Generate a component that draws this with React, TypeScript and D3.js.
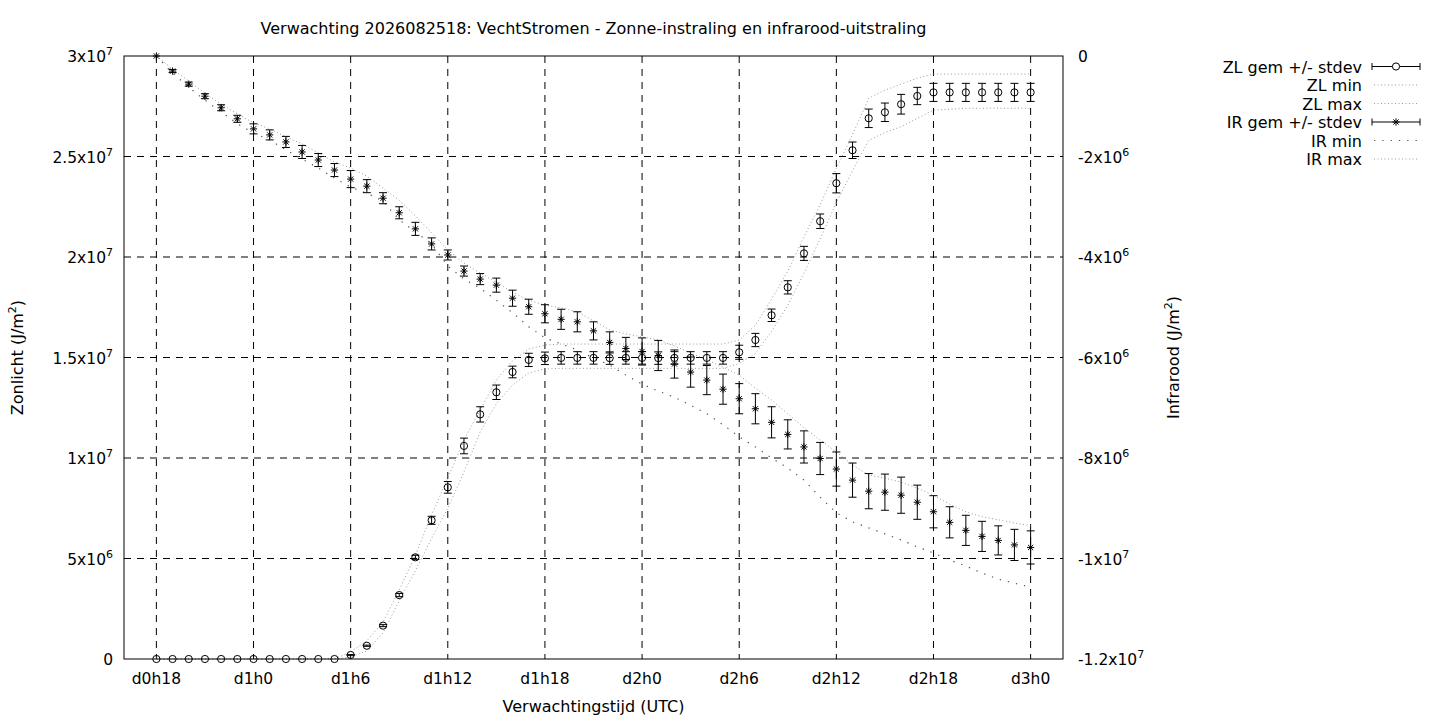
import * as d3 from 'd3'
import React from 'react'

// forecast hours since d0h0
const hours = [
  18, 19, 20, 21, 22, 23, 24, 25, 26, 27, 28, 29, 30, 31, 32, 33, 34, 35, 36,
  37, 38, 39, 40, 41, 42, 43, 44, 45, 46, 47, 48, 49, 50, 51, 52, 53, 54, 55,
  56, 57, 58, 59, 60, 61, 62, 63, 64, 65, 66, 67, 68, 69, 70, 71, 72,
]

// Zonlicht, in 1e6 J/m2
const zlMean = [
  0, 0, 0, 0, 0, 0, 0, 0, 0, 0, 0, 0,
  0.2, 0.66, 1.66, 3.18, 5.06, 6.9, 8.54, 10.6, 12.17, 13.27, 14.28, 14.88,
  14.96, 14.98, 14.98, 14.98, 14.97, 14.98, 14.98, 14.97, 14.98, 14.98, 14.98, 14.98,
  15.26, 15.87, 17.1, 18.49, 20.18, 21.78, 23.67, 25.31, 26.9, 27.2, 27.6, 28.01,
  28.19, 28.19, 28.19, 28.19, 28.19, 28.19, 28.19,
]
const zlStd = [
  0, 0, 0, 0, 0, 0, 0, 0, 0, 0, 0, 0,
  0.02, 0.03, 0.05, 0.08, 0.1, 0.2, 0.29, 0.39, 0.38, 0.36, 0.29, 0.33,
  0.31, 0.31, 0.31, 0.31, 0.31, 0.31, 0.31, 0.31, 0.31, 0.31, 0.31, 0.31,
  0.35, 0.33, 0.31, 0.33, 0.35, 0.36, 0.48, 0.41, 0.46, 0.46, 0.49, 0.43,
  0.45, 0.45, 0.45, 0.45, 0.45, 0.45, 0.45,
]
const zlMin = [
  0, 0, 0, 0, 0, 0, 0, 0, 0, 0, 0, 0,
  0.1, 0.4, 1.3, 2.9, 4.4, 6.0, 7.5, 9.3, 11.3, 12.7, 13.63, 14.23,
  14.43, 14.46, 14.46, 14.46, 14.46, 14.46, 14.46, 14.46, 14.46, 14.46, 14.46, 14.46,
  14.7, 15.2, 16.3, 17.6, 19.2, 20.9, 22.7, 24.3, 25.8, 26.2, 26.48, 26.9,
  27.31, 27.35, 27.4, 27.4, 27.4, 27.4, 27.4,
]
const zlMax = [
  0, 0, 0, 0, 0, 0, 0, 0, 0, 0, 0, 0,
  0.35, 0.9, 1.84, 3.43, 5.17, 7.16, 9.0, 10.9, 12.39, 13.88, 14.83, 15.42,
  15.62, 15.67, 15.67, 15.67, 15.67, 15.67, 15.67, 15.67, 15.67, 15.67, 15.67, 15.67,
  15.87, 16.6, 17.9, 19.3, 21.0, 22.6, 24.4, 26.1, 27.9, 28.3, 28.6, 28.9,
  29.1, 29.1, 29.1, 29.1, 29.1, 29.1, 29.1,
]

// Infrarood, in 1e6 J/m2
const irMean = [
  0, -0.3, -0.56, -0.8, -1.03, -1.25, -1.45, -1.57, -1.71, -1.91, -2.07, -2.27,
  -2.45, -2.59, -2.83, -3.12, -3.44, -3.74, -3.96, -4.28, -4.44, -4.56, -4.82, -4.99,
  -5.13, -5.24, -5.29, -5.47, -5.7, -5.82, -5.88, -5.96, -6.13, -6.29, -6.45, -6.63,
  -6.82, -7.02, -7.29, -7.53, -7.78, -8.01, -8.22, -8.44, -8.66, -8.68, -8.74, -8.88,
  -9.07, -9.28, -9.44, -9.56, -9.64, -9.73, -9.78,
]
const irStd = [
  0, 0.03, 0.04, 0.05, 0.06, 0.07, 0.1, 0.1, 0.11, 0.13, 0.13, 0.13,
  0.17, 0.13, 0.11, 0.12, 0.13, 0.12, 0.1, 0.1, 0.11, 0.14, 0.16, 0.15,
  0.18, 0.2, 0.2, 0.18, 0.21, 0.22, 0.27, 0.3, 0.28, 0.3, 0.29, 0.3,
  0.3, 0.3, 0.31, 0.29, 0.32, 0.32, 0.34, 0.34, 0.35, 0.36, 0.36, 0.34,
  0.32, 0.31, 0.3, 0.3, 0.29, 0.31, 0.33,
]
const irMin = [
  0, -0.34, -0.62, -0.88, -1.11, -1.35, -1.53, -1.67, -1.87, -2.05, -2.23, -2.43,
  -2.61, -2.73, -2.89, -3.26, -3.5, -3.74, -4.18, -4.44, -4.62, -4.86, -5.11, -5.39,
  -5.61, -5.73, -5.85, -6.01, -6.15, -6.35, -6.53, -6.67, -6.79, -6.95, -7.12, -7.34,
  -7.58, -7.78, -8.0, -8.2, -8.44, -8.78, -9.09, -9.27, -9.39, -9.51, -9.63, -9.77,
  -9.89, -10.03, -10.15, -10.29, -10.41, -10.49, -10.57,
]
const irMax = [
  0, -0.26, -0.5, -0.74, -0.96, -1.15, -1.33, -1.45, -1.61, -1.75, -1.93, -2.11,
  -2.23, -2.39, -2.63, -2.87, -3.18, -3.52, -3.86, -4.12, -4.32, -4.5, -4.7, -4.86,
  -4.96, -5.01, -5.09, -5.27, -5.45, -5.53, -5.59, -5.65, -5.77, -5.91, -6.05, -6.19,
  -6.35, -6.61, -6.85, -7.12, -7.4, -7.64, -7.88, -8.14, -8.34, -8.4, -8.48, -8.6,
  -8.74, -8.92, -9.07, -9.17, -9.23, -9.29, -9.35,
]

const xTicks = [18, 24, 30, 36, 42, 48, 54, 60, 66, 72]
const xTickLabels = ['d0h18', 'd1h0', 'd1h6', 'd1h12', 'd1h18', 'd2h0', 'd2h6', 'd2h12', 'd2h18', 'd3h0']
const leftTicks = [0, 5, 10, 15, 20, 25, 30]
const leftTickLabels = ['0', '5x10^6', '1x10^7', '1.5x10^7', '2x10^7', '2.5x10^7', '3x10^7']
const rightTicks = [0, -2, -4, -6, -8, -10, -12]
const rightTickLabels = ['0', '-2x10^6', '-4x10^6', '-6x10^6', '-8x10^6', '-1x10^7', '-1.2x10^7']
const legendLabels = ['ZL gem +/- stdev', 'ZL min', 'ZL max', 'IR gem +/- stdev', 'IR min', 'IR max']

const W = 1440
const H = 720
const m = { left: 124, right: 1063, top: 56, bottom: 659 }
const FONT = 'DejaVu Sans, sans-serif'
const FS = 15.5
const FS_TITLE = 16
const SUP = 11

const x = d3.scaleLinear().domain([16, 74]).range([m.left, m.right])
const yL = d3.scaleLinear().domain([0, 30]).range([m.bottom, m.top])
const yR = d3.scaleLinear().domain([-12, 0]).range([m.bottom, m.top])

const dense = { stroke: '#9a9a9a', dash: '1,2.5' }
const sparse = { stroke: '#555', dash: '1.3,7' }

function Sup({ label }: { label: string }) {
  const [base, exp] = label.split('^')
  return (
    <>
      {base}
      {exp && (
        <tspan dy={-7} fontSize={SUP}>
          {exp}
        </tspan>
      )}
    </>
  )
}

function Circle({ cx, cy, fill = 'none' }: { cx: number; cy: number; fill?: string }) {
  return <circle cx={cx} cy={cy} r={3.6} fill={fill} stroke="#000" strokeWidth={1} />
}

function Star({ cx, cy }: { cx: number; cy: number }) {
  const s = 3.6
  const d = 2.6
  return (
    <path
      d={`M${cx - s},${cy}H${cx + s}M${cx},${cy - s}V${cy + s}M${cx - d},${cy - d}L${cx + d},${cy + d}M${cx - d},${cy + d}L${cx + d},${cy - d}`}
      stroke="#000"
      strokeWidth={1}
      fill="none"
    />
  )
}

function ErrorBars({ mean, std, y }: { mean: number[]; std: number[]; y: d3.ScaleLinear<number, number> }) {
  const cap = 4
  return (
    <g stroke="#000" strokeWidth={1}>
      {hours.map((h, i) => {
        if (std[i] <= 0) return null
        const cx = x(h)
        const y0 = y(mean[i] - std[i])
        const y1 = y(mean[i] + std[i])
        return (
          <path key={h} d={`M${cx},${y0}V${y1}M${cx - cap},${y0}H${cx + cap}M${cx - cap},${y1}H${cx + cap}`} />
        )
      })}
    </g>
  )
}

export default function App() {
  const lineL = d3
    .line<number>()
    .x((_, i) => x(hours[i]))
    .y(d => yL(d))
  const lineR = d3
    .line<number>()
    .x((_, i) => x(hours[i]))
    .y(d => yR(d))

  const legendX = 1362
  const legendY = [66.5, 85, 103.5, 122, 140.5, 159]
  const sx0 = 1372
  const sx1 = 1420
  const dx0 = 1374
  const dx1 = 1418

  return (
    <svg
      width={W}
      height={H}
      style={{ position: 'absolute', left: 0, top: 0, background: '#fff' }}
      fontFamily={FONT}
      fontSize={FS}
    >
      <rect width={W} height={H} fill="#fff" />

      {/* grid */}
      <g stroke="#000" strokeWidth={1} strokeDasharray="7,6">
        {xTicks.map(t => (
          <line key={t} x1={x(t)} x2={x(t)} y1={m.top} y2={m.bottom} />
        ))}
        {leftTicks.slice(1, -1).map(t => (
          <line key={t} x1={m.left} x2={m.right} y1={yL(t)} y2={yL(t)} />
        ))}
      </g>

      {/* min / max lines */}
      <path d={lineL(zlMin) ?? ''} fill="none" stroke={dense.stroke} strokeDasharray={dense.dash} />
      <path d={lineL(zlMax) ?? ''} fill="none" stroke={dense.stroke} strokeDasharray={dense.dash} />
      <path d={lineR(irMin) ?? ''} fill="none" stroke={sparse.stroke} strokeDasharray={sparse.dash} strokeWidth={1.2} />
      <path d={lineR(irMax) ?? ''} fill="none" stroke={dense.stroke} strokeDasharray={dense.dash} />

      {/* error bars and points */}
      <ErrorBars mean={zlMean} std={zlStd} y={yL} />
      {hours.map((h, i) => (
        <Circle key={h} cx={x(h)} cy={yL(zlMean[i])} />
      ))}
      <ErrorBars mean={irMean} std={irStd} y={yR} />
      {hours.map((h, i) => (
        <Star key={h} cx={x(h)} cy={yR(irMean[i])} />
      ))}

      {/* border */}
      <rect
        x={m.left}
        y={m.top}
        width={m.right - m.left}
        height={m.bottom - m.top}
        fill="none"
        stroke="#000"
        strokeWidth={1}
      />

      {/* tick labels */}
      {xTicks.map((t, i) => (
        <text key={t} x={x(t)} y={m.bottom + 25} textAnchor="middle">
          {xTickLabels[i]}
        </text>
      ))}
      {leftTicks.map((t, i) => (
        <text key={t} x={m.left - 11} y={yL(t) + 6} textAnchor="end">
          <Sup label={leftTickLabels[i]} />
        </text>
      ))}
      {rightTicks.map((t, i) => (
        <text key={t} x={m.right + 15} y={yR(t) + 6} textAnchor="start">
          <Sup label={rightTickLabels[i]} />
        </text>
      ))}

      {/* titles */}
      <text x={(m.left + m.right) / 2} y={34} textAnchor="middle" fontSize={FS_TITLE}>
        Verwachting 2026082518: VechtStromen - Zonne-instraling en infrarood-uitstraling
      </text>
      <text x={(m.left + m.right) / 2} y={712} textAnchor="middle" fontSize={FS_TITLE}>
        Verwachtingstijd (UTC)
      </text>
      <text
        transform={`translate(23,${(m.top + m.bottom) / 2}) rotate(-90)`}
        textAnchor="middle"
        fontSize={FS_TITLE}
      >
        Zonlicht (J/m
        <tspan dy={-7} fontSize={SUP}>
          2
        </tspan>
        <tspan dy={7}>)</tspan>
      </text>
      <text
        transform={`translate(1179,${(m.top + m.bottom) / 2}) rotate(-90)`}
        textAnchor="middle"
        fontSize={FS_TITLE}
      >
        Infrarood (J/m
        <tspan dy={-7} fontSize={SUP}>
          2
        </tspan>
        <tspan dy={7}>)</tspan>
      </text>

      {/* legend */}
      {legendLabels.map((l, i) => (
        <text key={l} x={legendX} y={legendY[i] + 6} textAnchor="end" fontSize={FS_TITLE}>
          {l}
        </text>
      ))}
      <g stroke="#000" strokeWidth={1}>
        {[0, 3].map(i => (
          <path
            key={i}
            d={`M${sx0},${legendY[i]}H${sx1}M${sx0},${legendY[i] - 3.5}v7M${sx1},${legendY[i] - 3.5}v7`}
          />
        ))}
      </g>
      <Circle cx={(sx0 + sx1) / 2} cy={legendY[0]} fill="#fff" />
      <Star cx={(sx0 + sx1) / 2} cy={legendY[3]} />
      <path d={`M${dx0},${legendY[1]}H${dx1}`} stroke={dense.stroke} strokeDasharray={dense.dash} />
      <path d={`M${dx0},${legendY[2]}H${dx1}`} stroke={dense.stroke} strokeDasharray={dense.dash} />
      <path d={`M${dx0},${legendY[4]}H${dx1}`} stroke={sparse.stroke} strokeDasharray={sparse.dash} strokeWidth={1.2} />
      <path d={`M${dx0},${legendY[5]}H${dx1}`} stroke={dense.stroke} strokeDasharray={dense.dash} />
    </svg>
  )
}
